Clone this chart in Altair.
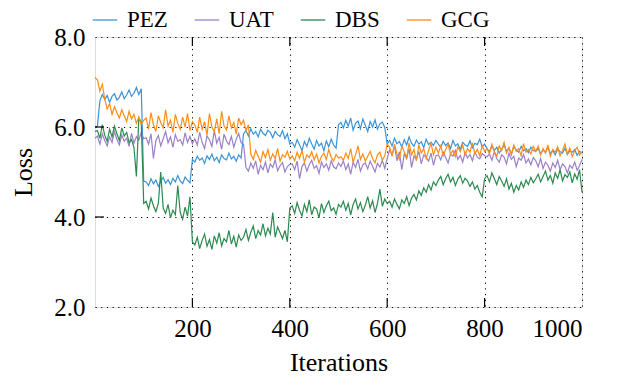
import altair as alt
import pandas as pd

# Iterations sampled every 5 steps (0..1000)
iterations = list(range(0, 1001, 5))

pez = [6.00,
    6.02, 6.58, 6.72, 6.61, 6.70, 6.55, 6.68, 6.74, 6.60, 6.66, 6.78, 6.63, 6.71, 6.82, 6.68, 6.75, 6.88, 6.72, 6.85, 4.80,
    4.78, 4.70, 4.85, 4.74, 4.82, 4.68, 4.79, 4.88, 4.75, 4.83, 4.72, 4.86, 4.78, 4.92, 4.80, 4.74, 4.89, 4.82, 4.76, 5.28,
    5.22, 5.35, 5.26, 5.31, 5.19, 5.36, 5.28, 5.40, 5.25, 5.33, 5.21, 5.38, 5.30, 5.27, 5.42, 5.29, 5.35, 5.24, 5.38, 5.31,
    5.85, 5.92, 5.80, 5.96, 5.84, 5.90, 5.78, 5.95, 5.86, 5.81, 5.93, 5.88, 5.76, 5.90, 5.83, 5.79, 5.92, 5.74, 5.85, 5.62,
    5.66, 5.55, 5.72, 5.60, 5.48, 5.68, 5.57, 5.75, 5.62, 5.51, 5.70, 5.58, 5.64, 5.47, 5.69, 5.56, 5.73, 5.60, 5.53, 6.05,
    6.10, 5.98, 6.15, 6.02, 6.20, 5.93, 6.08, 6.13, 5.96, 6.18, 6.04, 5.90, 6.12, 6.00, 6.16, 5.95, 6.07, 6.11, 5.99, 5.62,
    5.70, 5.58, 5.75, 5.63, 5.68, 5.55, 5.72, 5.60, 5.78, 5.64, 5.57, 5.71, 5.62, 5.67, 5.54, 5.73, 5.61, 5.66, 5.59, 5.70,
    5.62, 5.55, 5.68, 5.59, 5.65, 5.52, 5.70, 5.58, 5.63, 5.50, 5.66, 5.60, 5.57, 5.69, 5.54, 5.64, 5.61, 5.73, 5.56, 5.62,
    5.52, 5.45, 5.58, 5.48, 5.55, 5.42, 5.50, 5.60, 5.46, 5.53, 5.40, 5.56, 5.49, 5.44, 5.57, 5.47, 5.52, 5.43, 5.55, 5.48,
    5.46, 5.52, 5.40, 5.49, 5.44, 5.55, 5.41, 5.48, 5.38, 5.51, 5.45, 5.42, 5.53, 5.39, 5.47, 5.44, 5.50, 5.37, 5.46, 5.42]

uat = [5.75,
    5.80, 5.62, 5.85, 5.70, 5.58, 5.78, 5.66, 5.90, 5.72, 5.60, 5.82, 5.68, 5.75, 5.57, 5.86, 5.64, 5.79, 5.71, 5.88, 5.74,
    5.76, 5.62, 5.85, 5.30, 5.70, 5.81, 5.58, 5.74, 5.90, 5.65, 5.78, 5.55, 5.83, 5.68, 5.72, 5.60, 5.87, 5.66, 5.79, 5.63,
    5.74, 5.60, 5.88, 5.66, 5.52, 5.80, 5.71, 5.57, 5.92, 5.64, 5.77, 5.50, 5.84, 5.69, 5.61, 5.79, 5.55, 5.73, 5.86, 5.65,
    5.62, 5.10, 5.02, 5.20, 5.08, 5.25, 4.95, 5.15, 5.05, 5.22, 4.98, 5.18, 5.10, 5.27, 5.03, 5.14, 5.21, 5.00, 5.12, 5.17,
    5.18, 5.05, 5.24, 4.85, 5.12, 5.20, 5.02, 5.16, 5.26, 5.08, 5.14, 4.97, 5.22, 5.10, 5.18, 5.04, 5.25, 5.11, 5.07, 5.20,
    5.12, 5.25, 5.05, 5.18, 4.95, 5.22, 5.10, 5.28, 5.02, 5.16, 5.20, 5.07, 5.24, 5.13, 5.00, 5.19, 5.11, 5.26, 5.08, 5.30,
    5.50, 5.38, 5.58, 5.25, 5.45, 5.05, 5.40, 5.30, 5.52, 5.10, 5.35, 5.28, 5.46, 5.18, 5.38, 5.32, 5.24, 5.42, 5.15, 5.36,
    5.38, 5.27, 5.44, 5.32, 5.20, 5.40, 5.35, 5.48, 5.28, 5.37, 5.22, 5.43, 5.31, 5.39, 5.25, 5.45, 5.33, 5.29, 5.41, 5.36,
    5.34, 5.40, 5.26, 5.45, 5.30, 5.22, 5.38, 5.33, 5.18, 5.42, 5.28, 5.35, 5.12, 5.31, 5.26, 5.39, 5.20, 5.29, 5.16, 5.32,
    5.25, 5.12, 5.30, 5.08, 5.22, 5.15, 5.02, 5.20, 5.10, 5.26, 5.05, 5.18, 5.12, 4.98, 5.15, 5.08, 5.22, 5.04, 5.14, 5.28]

dbs = [5.90,
    5.92, 5.75, 6.05, 5.82, 5.68, 5.95, 5.78, 6.02, 5.85, 5.70, 5.98, 5.80, 5.88, 5.65, 5.72, 5.55, 4.90, 6.20, 6.10, 4.30,
    4.35, 4.18, 4.42, 4.25, 4.12, 4.30, 5.00, 4.20, 4.08, 4.28, 3.98, 4.15, 4.05, 4.70, 4.10, 3.95, 4.22, 4.02, 4.45, 3.45,
    3.38, 3.55, 3.30, 3.48, 3.62, 3.35, 3.50, 3.28, 3.58, 3.42, 3.65, 3.36, 3.52, 3.45, 3.70, 3.40, 3.57, 3.33, 3.60, 3.48,
    3.55, 3.72, 3.48, 3.66, 3.80, 3.52, 3.70, 3.60, 3.85, 3.58, 3.75, 3.62, 4.10, 3.55, 3.78, 3.65, 3.52, 3.70, 3.45, 4.20,
    4.25, 4.08, 4.32, 4.15, 4.02, 4.28, 4.12, 4.38, 4.05, 4.22, 4.18, 3.98, 4.30, 4.10, 4.25, 4.35, 4.14, 4.20, 4.06, 4.28,
    4.22, 4.35, 4.15, 4.30, 4.05, 4.28, 4.40, 4.18, 4.32, 4.12, 4.26, 4.45, 4.20, 4.36, 4.10, 4.30, 4.62, 4.24, 4.40, 4.30,
    4.35, 4.22, 4.40, 4.28, 4.18, 4.38, 4.30, 4.45, 4.25, 4.42, 4.50, 4.38, 4.58, 4.48, 4.65, 4.55, 4.72, 4.60, 4.78, 4.70,
    4.82, 4.90, 4.72, 4.85, 4.95, 4.78, 4.88, 4.70, 4.84, 4.92, 4.75, 4.86, 4.80, 4.68, 4.78, 4.62, 4.70, 4.55, 4.45, 4.85,
    4.92, 4.78, 4.98, 4.85, 4.72, 4.90, 4.80, 4.68, 4.85, 4.62, 4.75, 4.55, 4.70, 4.60, 4.78, 4.66, 4.82, 4.72, 4.88, 4.76,
    4.85, 4.95, 4.78, 4.90, 5.02, 4.82, 4.92, 4.75, 4.98, 4.86, 5.05, 4.80, 4.94, 4.88, 5.00, 4.76, 4.96, 4.84, 5.05, 4.55]

gcg = [7.10,
    7.05, 6.80, 6.95, 6.62, 6.40, 6.52, 6.28, 6.45, 6.32, 6.20, 6.38, 6.25, 6.12, 6.35, 6.18, 6.28, 6.08, 6.22, 6.05, 6.15,
    6.20, 5.95, 6.32, 6.05, 5.90, 6.25, 6.10, 5.98, 6.38, 6.02, 6.15, 5.88, 6.28, 6.08, 5.95, 6.22, 6.00, 6.30, 5.92, 6.12,
    6.05, 5.88, 6.22, 5.95, 6.12, 5.82, 6.30, 6.00, 5.90, 6.18, 5.85, 6.35, 6.02, 5.93, 6.25, 5.98, 6.10, 5.84, 6.20, 6.05,
    6.15, 5.92, 6.05, 5.40, 5.28, 5.48, 5.35, 5.22, 5.45, 5.32, 5.50, 5.26, 5.40, 5.30, 5.52, 5.24, 5.38, 5.33, 5.46, 5.29,
    5.36, 5.25, 5.44, 5.30, 5.48, 5.22, 5.38, 5.32, 5.45, 5.27, 5.40, 5.20, 5.35, 5.42, 5.28, 5.50, 5.33, 5.24, 5.39, 5.31,
    5.34, 5.26, 5.42, 5.30, 5.52, 5.22, 5.38, 5.58, 5.28, 5.40, 5.24, 5.35, 5.46, 5.30, 5.20, 5.38, 5.44, 5.26, 5.36, 5.62,
    5.55, 5.35, 5.62, 5.40, 5.28, 5.58, 5.45, 5.32, 5.65, 5.38, 5.50, 5.25, 5.60, 5.42, 5.52, 5.30, 5.48, 5.64, 5.38, 5.55,
    5.42, 5.58, 5.36, 5.50, 5.62, 5.40, 5.48, 5.34, 5.56, 5.45, 5.60, 5.38, 5.52, 5.44, 5.65, 5.40, 5.50, 5.36, 5.58, 5.46,
    5.52, 5.40, 5.62, 5.45, 5.35, 5.58, 5.48, 5.66, 5.42, 5.55, 5.38, 5.60, 5.46, 5.52, 5.36, 5.63, 5.44, 5.50, 5.40, 5.57,
    5.46, 5.58, 5.38, 5.52, 5.42, 5.60, 5.35, 5.50, 5.44, 5.56, 5.36, 5.48, 5.62, 5.40, 5.53, 5.34, 5.47, 5.55, 5.38, 5.45]

methods = ["PEZ", "UAT", "DBS", "GCG"]
colors = ["#3a93d8", "#9b80c8", "#2b8a4f", "#ff8c17"]
x_ticks = [200, 400, 600, 800, 1000]
y_ticks = [2.0, 4.0, 6.0, 8.0]
x_inner_ticks = [200, 400, 600, 800]
y_inner_ticks = [4.0, 6.0]

rows = []
for name, series in zip(methods, [pez, uat, dbs, gcg]):
    for it, v in zip(iterations, series):
        rows.append({"Iteration": it, "Loss": v, "Method": name})
df = pd.DataFrame(rows)

W, H = 487, 270
FONT = "Liberation Serif"

lines = alt.Chart(df).mark_line(strokeWidth=1.2).encode(
    x=alt.X("Iteration:Q",
            scale=alt.Scale(domain=[0, 1000], nice=False, zero=False),
            axis=alt.Axis(values=x_ticks, format="d", title="Iterations",
                          grid=True, gridColor="black", gridDash=[1.2, 4.5], gridWidth=1,
                          ticks=False, domain=False, labelFontSize=25, labelFont=FONT,
                          labelColor="black", labelPadding=9,
                          titleFontSize=26, titleFont=FONT, titleFontWeight="normal",
                          titleColor="black", titlePadding=8)),
    y=alt.Y("Loss:Q",
            scale=alt.Scale(domain=[2, 8], nice=False, zero=False),
            axis=alt.Axis(values=y_ticks, format=".1f", title="Loss",
                          grid=True, gridColor="black", gridDash=[1.2, 4.5], gridWidth=1,
                          ticks=False, domain=False, labelFontSize=25, labelFont=FONT,
                          labelColor="black", labelPadding=10,
                          titleFontSize=26, titleFont=FONT, titleFontWeight="normal",
                          titleColor="black", titlePadding=17)),
    color=alt.Color("Method:N",
                    scale=alt.Scale(domain=methods, range=colors),
                    sort=methods,
                    legend=alt.Legend(title=None, orient="none", legendX=-3, legendY=-30,
                                      direction="horizontal", columns=4, columnPadding=24,
                                      symbolType="stroke", symbolSize=600, symbolStrokeWidth=1.3,
                                      labelFontSize=23, labelFont=FONT, labelColor="black",
                                      labelOffset=9)),
)

xt = pd.DataFrame({"t": x_inner_ticks})
yt = pd.DataFrame({"t": y_inner_ticks})

tick_bottom = alt.Chart(xt).mark_rule(color="black", strokeWidth=1.2).encode(
    x="t:Q", y=alt.value(H), y2=alt.value(H - 9))
tick_top = alt.Chart(xt).mark_rule(color="black", strokeWidth=1.2).encode(
    x="t:Q", y=alt.value(0), y2=alt.value(9))
tick_left = alt.Chart(yt).mark_rule(color="black", strokeWidth=1.2).encode(
    y="t:Q", x=alt.value(0), x2=alt.value(9))

chart = alt.layer(lines, tick_bottom, tick_top, tick_left).properties(
    width=W, height=H,
    autosize=alt.AutoSizeParams(type="none"),
    padding={"left": 87, "top": 29, "right": 31, "bottom": 70},
).configure_view(stroke="#222", strokeWidth=1.6).configure(background="white")

chart.save("out.html", embed_options={"renderer": "svg", "actions": False})
